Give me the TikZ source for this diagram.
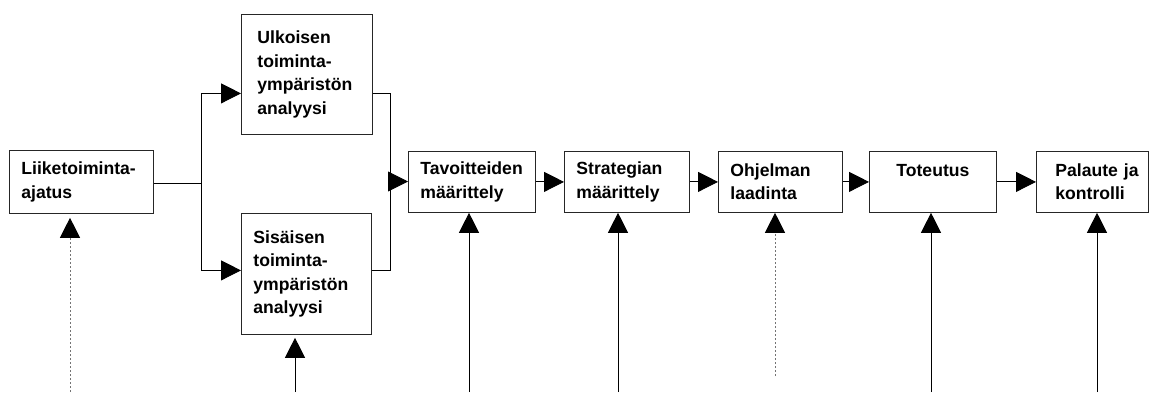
\documentclass[tikz,border=0pt]{standalone}
\usepackage{fontspec}
\setmainfont{Liberation Sans}
\usetikzlibrary{arrows.meta}

\tikzset{
  stepbox/.style={draw=black!85, line width=0.8pt, fill=white, anchor=north west,
    inner xsep=12pt, inner ysep=0pt, align=left,
    font=\bfseries\fontsize{17.6}{23.5}\selectfont},
  link/.style={draw=black, line width=0.9pt},
  arr/.style={link, -{Triangle[length=20pt,width=20pt]}},
  feed/.style={arr},
  faintfeed/.style={draw=black!55, line width=0.9pt, dash pattern=on 2.5pt off 1.5pt,
    -{Triangle[length=20pt,width=20pt,color=black]}},
}

\begin{document}
\begin{tikzpicture}[x=1pt, y=-1pt]
\useasboundingbox (0,0) rectangle (1150,392);

% process boxes
\node[stepbox, text width=120pt, minimum height=63pt]  (liik) at (9,150)   {Liiketoiminta-\\ajatus};
\node[stepbox, text width=107pt, minimum height=120pt] (ulk)  at (241,14)  {\hspace*{4pt}Ulkoisen\\\hspace*{4pt}toiminta-\\\hspace*{4pt}ympäristön\\\hspace*{4pt}analyysi};
\node[stepbox, text width=106pt, minimum height=121pt] (sis)  at (241,213) {Sisäisen\\toiminta-\\ympäristön\\analyysi};
\node[stepbox, text width=103pt, minimum height=61pt]  (tav)  at (408,151) {Tavoitteiden\\määrittely};
\node[stepbox, text width=101pt, minimum height=61pt]  (str)  at (564,151) {Strategian\\määrittely};
\node[stepbox, text width=100pt, minimum height=61pt]  (ohj)  at (718,151) {Ohjelman\\laadinta};
\node[stepbox, text width=103pt, minimum height=61pt, align=center] (tot) at (869,151) {Toteutus\\\phantom{x}};
\node[stepbox, text width=100pt, inner xsep=6pt, minimum height=61pt] (pal) at (1036,151) {\hspace*{13pt}Palaute ja\\\hspace*{13pt}kontrolli};

% branch towards the two analyses
\coordinate (split) at (201,183);
\draw[link] (liik.east |- split) -- (split);
\draw[arr] (split) |- ([yshift=-19pt]ulk.west);
\draw[arr] (split) |- ([yshift=3.5pt]sis.west);

% merge of the analyses into the objectives
\coordinate (merge) at (390,181.5);
\draw[link] ([yshift=-19pt]ulk.east) -| (merge);
\draw[link] ([yshift=3.5pt]sis.east) -| (merge);
\draw[arr] (merge) -- (merge -| tav.west);

% main chain
\draw[arr] (tav.east) -- (str.west);
\draw[arr] (str.east) -- (ohj.west);
\draw[arr] (ohj.east) -- (tot.west);
\draw[arr] (tot.east) -- (pal.west);

% inputs from below
\coordinate (inLiik) at (70,392);
\coordinate (inSis)  at (295,392);
\coordinate (inTav)  at (469,392);
\coordinate (inStr)  at (618,392);
\coordinate (inOhj)  at (775,376);
\coordinate (inTot)  at (931,392);
\coordinate (inPal)  at (1097,392);

\draw[faintfeed, shorten >=4pt] (inLiik) -- (inLiik |- liik.south);
\draw[feed, shorten >=3pt] (inSis) -- (inSis |- sis.south);
\draw[feed] (inTav) -- (inTav |- tav.south);
\draw[feed] (inStr) -- (inStr |- str.south);
\draw[faintfeed] (inOhj) -- (inOhj |- ohj.south);
\draw[feed] (inTot) -- (inTot |- tot.south);
\draw[feed] (inPal) -- (inPal |- pal.south);
\end{tikzpicture}
\end{document}
